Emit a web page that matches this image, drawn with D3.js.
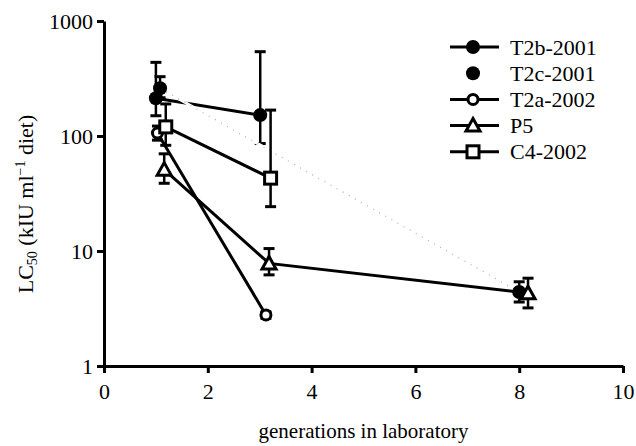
<!DOCTYPE html>
<html>
<head>
<meta charset="utf-8">
<script src="https://cdn.jsdelivr.net/npm/d3@7"></script>
<style>
  body { margin: 0; background: #fff; }
  svg { display: block; }
  svg text { font-family: "Liberation Serif", "Times New Roman", serif; fill: #000; }
</style>
</head>
<body>
<div id="chart"></div>
<script>
// tick labels
const xTicks = [0, 2, 4, 6, 8, 10];
const yTicks = [1, 10, 100, 1000];

// series names (legend order)
const seriesNames = ['T2b-2001', 'T2c-2001', 'T2a-2002', 'P5', 'C4-2002'];

// generations, LC50 and error limits
const t2bGen = [1.0, 3.01];
const t2bLC = [213, 152];
const t2bLo = [150, 86];
const t2bHi = [437, 541];

const t2cGen = [1.08, 8.0];
const t2cLC = [260, 4.4];
const t2cLo = [215, 3.6];
const t2cHi = [328, 5.4];

const t2aGen = [1.03, 3.12];
const t2aLC = [106, 2.78];
const t2aLo = [92, 2.6];
const t2aHi = [122, 2.95];

const p5Gen = [1.16, 3.18, 8.17];
const p5LC = [51, 7.8, 4.3];
const p5Lo = [38.8, 6.2, 3.2];
const p5Hi = [70, 10.5, 5.8];

const c4Gen = [1.19, 3.21];
const c4LC = [120, 43];
const c4Lo = [83, 24.3];
const c4Hi = [190, 168];

const W = 636, H = 446;
const FONT = '"Liberation Serif", "Times New Roman", serif';
const margin = {top: 21, right: 13, bottom: 80, left: 104};

// build the table the drawing uses
const makeRows = (g, v, lo, hi) => g.map((d, i) => ({g: d, v: v[i], lo: lo[i], hi: hi[i]}));
const series = [
    {name: seriesNames[0], rows: makeRows(t2bGen, t2bLC, t2bLo, t2bHi), shape: 'circle', line: 'solid'},
    {name: seriesNames[1], rows: makeRows(t2cGen, t2cLC, t2cLo, t2cHi), shape: 'circle', line: 'dotted'},
    {name: seriesNames[2], rows: makeRows(t2aGen, t2aLC, t2aLo, t2aHi), shape: 'ring', line: 'solid'},
    {name: seriesNames[3], rows: makeRows(p5Gen, p5LC, p5Lo, p5Hi), shape: 'triangle', line: 'solid'},
    {name: seriesNames[4], rows: makeRows(c4Gen, c4LC, c4Lo, c4Hi), shape: 'square', line: 'solid'}
];

const svg = d3.select('#chart').append('svg')
    .attr('width', W)
    .attr('height', H);

const x = d3.scaleLinear().domain([0, 10]).range([margin.left, W - margin.right]);
const y = d3.scaleLog().domain([1, 1000]).range([366, margin.top]);

// axes
const xAxis = svg.append('g')
    .attr('transform', `translate(0,${y(1)})`)
    .call(d3.axisBottom(x).tickValues(xTicks).tickSize(7).tickSizeOuter(0).tickPadding(10));
const yAxis = svg.append('g')
    .attr('transform', `translate(${x(0)},0)`)
    .call(d3.axisLeft(y).tickValues(yTicks).tickFormat(d3.format('d')).tickSize(7).tickSizeOuter(0).tickPadding(4));

[xAxis, yAxis].forEach(ax => {
    ax.attr('font-family', null).attr('font-size', null);
    ax.select('.domain').attr('stroke', '#000').attr('stroke-width', 3);
    ax.selectAll('.tick line').attr('stroke', '#000').attr('stroke-width', 3);
    ax.selectAll('.tick text')
        .attr('fill', '#000')
        .style('font-family', FONT)
        .style('font-size', '22px');
});

// axis titles
svg.append('text')
    .attr('x', (x(0) + x(10)) / 2)
    .attr('y', 438)
    .attr('text-anchor', 'middle')
    .style('font-family', FONT)
    .style('font-size', '21px')
    .text('generations in laboratory');

const yTitle = svg.append('text')
    .attr('transform', 'translate(33,204) rotate(-90)')
    .attr('text-anchor', 'middle')
    .style('font-family', FONT)
    .style('font-size', '22px');
yTitle.append('tspan').text('LC');
yTitle.append('tspan').attr('font-size', '14px').attr('dy', 4).text('50');
yTitle.append('tspan').attr('dy', -4).text(' (kIU ml');
yTitle.append('tspan').attr('font-size', '14px').attr('dy', -8).text('\u22121');
yTitle.append('tspan').attr('dy', 8).text(' diet)');

const line = d3.line().x(d => x(d.g)).y(d => y(d.v));

// symbol drawing helper
function drawMarker(sel, shape) {
    if (shape === 'circle') {
        sel.append('circle').attr('r', 7).attr('fill', '#000');
    } else if (shape === 'ring') {
        sel.append('circle').attr('r', 5).attr('fill', '#fff').attr('stroke', '#000').attr('stroke-width', 3);
    } else if (shape === 'triangle') {
        sel.append('path').attr('d', 'M0,-7L7,5.5L-7,5.5Z')
            .attr('fill', '#fff').attr('stroke', '#000').attr('stroke-width', 3).attr('stroke-linejoin', 'miter');
    } else {
        sel.append('rect').attr('x', -6).attr('y', -6).attr('width', 12).attr('height', 12)
            .attr('fill', '#fff').attr('stroke', '#000').attr('stroke-width', 3);
    }
}

const plot = svg.append('g');

series.forEach(s => {
    const g = plot.append('g').attr('class', 'series');

    // error bars
    const eb = g.selectAll('.err').data(s.rows).enter().append('g').attr('class', 'err');
    eb.append('line')
        .attr('x1', d => x(d.g)).attr('x2', d => x(d.g))
        .attr('y1', d => y(d.lo)).attr('y2', d => y(d.hi))
        .attr('stroke', '#000').attr('stroke-width', 2.5);
    ['lo', 'hi'].forEach(k => {
        eb.append('line')
            .attr('x1', d => x(d.g) - 5.5).attr('x2', d => x(d.g) + 5.5)
            .attr('y1', d => y(d[k])).attr('y2', d => y(d[k]))
            .attr('stroke', '#000').attr('stroke-width', 3);
    });

    // connecting line
    if (s.line === 'dotted') {
        g.append('path').datum(s.rows).attr('d', line)
            .attr('fill', 'none').attr('stroke', '#fff').attr('stroke-width', 3);
        g.append('path').datum(s.rows).attr('d', line)
            .attr('fill', 'none').attr('stroke', '#b0b0b0').attr('stroke-width', 1.2)
            .attr('stroke-dasharray', '1,6');
    } else {
        g.append('path').datum(s.rows).attr('d', line)
            .attr('fill', 'none').attr('stroke', '#000').attr('stroke-width', 3);
    }

    // markers
    g.selectAll('.pt').data(s.rows).enter().append('g')
        .attr('class', 'pt')
        .attr('transform', d => `translate(${x(d.g)},${y(d.v)})`)
        .each(function() { drawMarker(d3.select(this), s.shape); });
});

// legend
const legend = svg.append('g').attr('transform', 'translate(450,47)');
series.forEach((s, i) => {
    const row = legend.append('g').attr('transform', `translate(0,${i * 26.2})`);
    if (s.line === 'solid') {
        row.append('line').attr('x1', 0).attr('x2', 49).attr('y1', 0).attr('y2', 0)
            .attr('stroke', '#000').attr('stroke-width', 3);
    }
    drawMarker(row.append('g').attr('transform', 'translate(23,0)'), s.shape);
    row.append('text')
        .attr('x', 60)
        .attr('y', 7.5)
        .style('font-family', FONT)
        .style('font-size', '22px')
        .text(s.name);
});
</script>
</body>
</html>
